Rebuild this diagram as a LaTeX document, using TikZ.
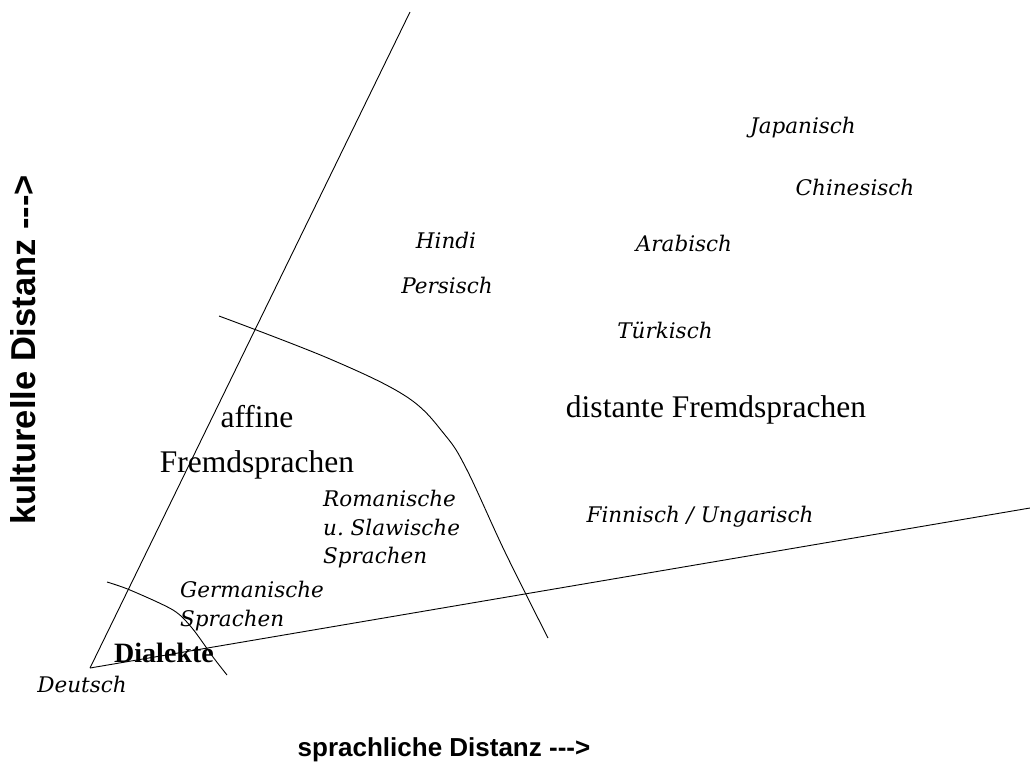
\documentclass[tikz,border=0pt]{standalone}
\usepackage{fontspec}
\setmainfont{Liberation Serif}
\setsansfont{Liberation Sans}
\newfontfamily\langfont{DejaVu Serif}
\usepackage{tikz}
\usetikzlibrary{positioning, calc}
\tikzset{
    langlabel/.style={font=\langfont\itshape\fontsize{21.5}{28.5}\selectfont, inner sep=0pt, align=left},
    regionlabel/.style={font=\fontsize{#1}{45}\selectfont, inner sep=0pt, align=center},
    axislabel/.style={font=\sffamily\bfseries\fontsize{#1}{25}\selectfont, inner sep=0pt},
    borderline/.style={line width=0.9pt, black}
}

\begin{document}
\begin{tikzpicture}[x=1pt, y=-1pt]

\useasboundingbox (0,0) rectangle (1030,780);

% axes
\coordinate (deutsch) at (90,668);
\coordinate (kultend) at (410,12);
\coordinate (sprachend) at (1030,508);
\draw[borderline] (deutsch) -- (kultend);
\draw[borderline] (deutsch) -- (sprachend);

% borders between the groups
\draw[borderline] plot[smooth] coordinates {(107,582) (130,590) (173,610) (192,628) (213,657) (227,675)};
\draw[borderline] plot[smooth, tension=0.6] coordinates {(219,316) (330,359) (407,397) (445,435) (467,470) (505,552) (548,638)};

% languages
\node[langlabel] (japan) at (803,128) {Japanisch};
\node[langlabel] (china) at (855,187) {Chinesisch};
\node[langlabel] (hindi) at (446,240) {Hindi};
\node[langlabel] (pers) at (447,285) {Persisch};
\node[langlabel] (arab) at (684,243) {Arabisch};
\node[langlabel] (turk) at (665,330) {Türkisch};
\node[langlabel] (finn) at (700,517) {Finnisch / Ungarisch};
\node[langlabel, anchor=north west] (roman) at (323,490) {Romanische\\u.\ Slawische\\Sprachen};
\node[langlabel, anchor=north west] (germ) at (180,581) {Germanische\\Sprachen};
\node[langlabel] (deu) at (82,684) {Deutsch};

% groups
\node[regionlabel=31.5] (distant) at (716,410) {distante Fremdsprachen};
\node[regionlabel=31.5] (affin) at (257,442) {affine\\Fremdsprachen};
\node[regionlabel=28, font=\bfseries\fontsize{28}{30}\selectfont] (dial) at (164,653) {Dialekte};

% axis titles
\node[axislabel=26] (xtitle) at (444,750) {sprachliche Distanz -{}-{}->};
\node[axislabel=34.5, rotate=90] (ytitle) at (23,350) {kulturelle Distanz -{}-{}->};

\end{tikzpicture}
\end{document}
